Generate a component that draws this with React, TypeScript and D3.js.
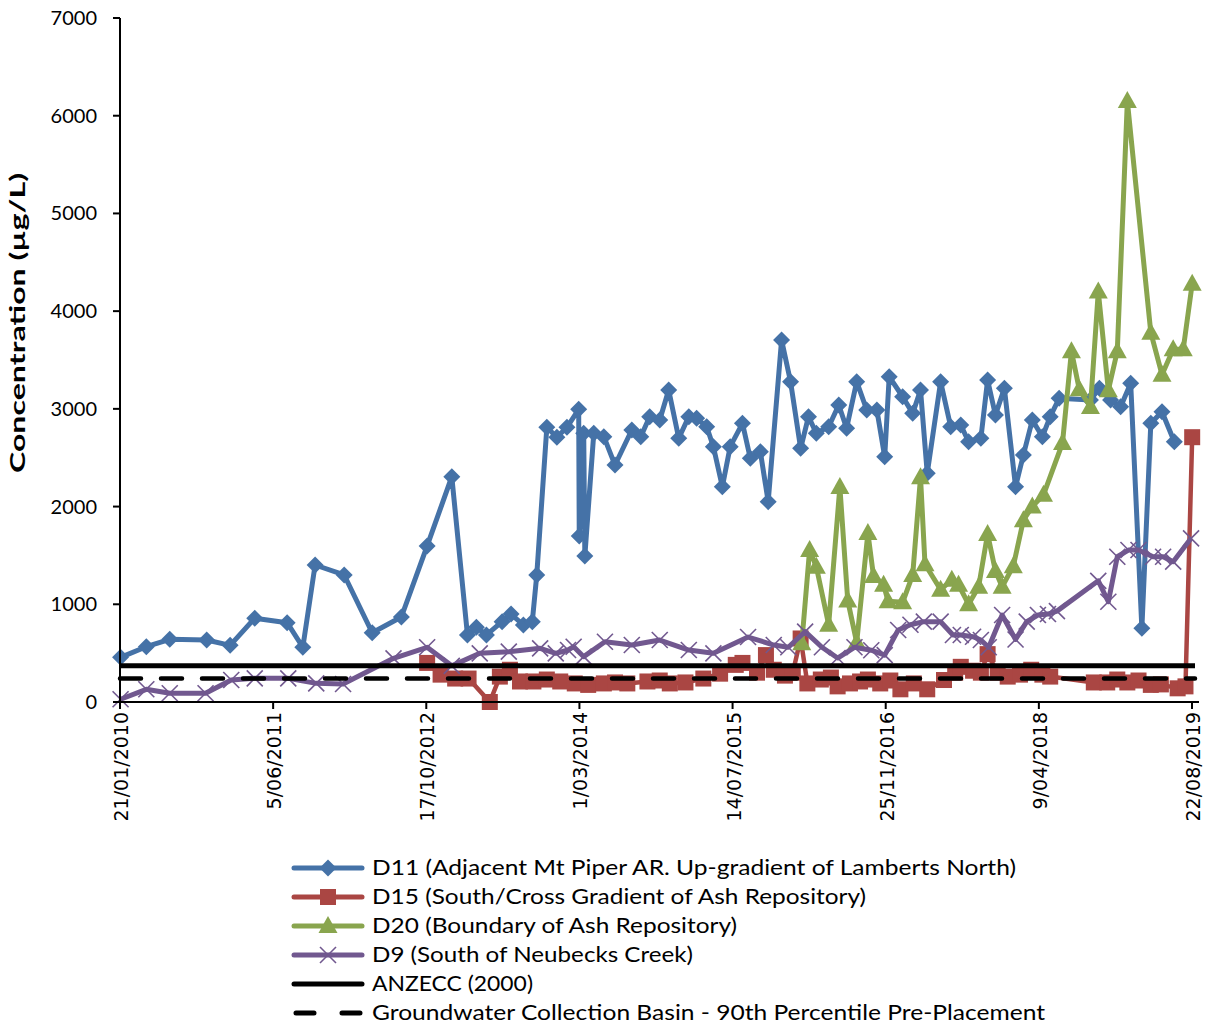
import React from 'react';
import * as d3 from 'd3';

// Sampling dates as decimal years, values in µg/L
const d11Dates = [2010.06, 2010.29, 2010.50, 2010.83, 2011.04, 2011.26, 2011.55, 2011.69, 2011.80, 2012.06, 2012.31, 2012.57, 2012.80, 2013.02, 2013.16, 2013.24, 2013.33, 2013.47, 2013.55, 2013.66, 2013.74, 2013.78, 2013.87, 2013.96, 2014.05, 2014.155, 2014.16, 2014.20, 2014.21, 2014.29, 2014.38, 2014.48, 2014.63, 2014.71, 2014.79, 2014.88, 2014.96, 2015.05, 2015.14, 2015.21, 2015.30, 2015.36, 2015.44, 2015.51, 2015.62, 2015.69, 2015.78, 2015.85, 2015.97, 2016.05, 2016.14, 2016.21, 2016.28, 2016.39, 2016.48, 2016.55, 2016.64, 2016.73, 2016.82, 2016.89, 2016.93, 2017.05, 2017.14, 2017.21, 2017.27, 2017.39, 2017.48, 2017.57, 2017.64, 2017.75, 2017.81, 2017.88, 2017.96, 2018.06, 2018.13, 2018.21, 2018.30, 2018.37, 2018.45, 2018.73, 2018.81, 2018.91, 2019.00, 2019.09, 2019.19, 2019.27, 2019.37, 2019.48];
const d11Values = [457, 566, 642, 634, 580, 857, 812, 560, 1402, 1300, 709, 870, 1597, 2306, 686, 764, 686, 822, 900, 788, 822, 1300, 2811, 2709, 2811, 2995, 1699, 2750, 1494, 2750, 2715, 2425, 2784, 2715, 2920, 2886, 3193, 2699, 2920, 2903, 2817, 2613, 2203, 2613, 2852, 2494, 2562, 2050, 3705, 3278, 2596, 2920, 2750, 2817, 3039, 2801, 3278, 2988, 2988, 2510, 3329, 3124, 2954, 3193, 2340, 3278, 2817, 2835, 2664, 2699, 3295, 2937, 3210, 2203, 2528, 2886, 2715, 2920, 3108, 3090, 3210, 3090, 3022, 3261, 754, 2852, 2971, 2664];

const d15Dates = [2012.80, 2012.92, 2013.05, 2013.17, 2013.36, 2013.45, 2013.54, 2013.63, 2013.75, 2013.87, 2013.99, 2014.12, 2014.24, 2014.38, 2014.48, 2014.59, 2014.77, 2014.88, 2014.97, 2015.11, 2015.27, 2015.42, 2015.56, 2015.62, 2015.75, 2015.83, 2015.90, 2016.00, 2016.07, 2016.14, 2016.20, 2016.32, 2016.41, 2016.47, 2016.58, 2016.67, 2016.74, 2016.85, 2016.94, 2017.03, 2017.15, 2017.27, 2017.42, 2017.52, 2017.57, 2017.68, 2017.75, 2017.81, 2017.90, 2017.99, 2018.10, 2018.20, 2018.30, 2018.37, 2018.76, 2018.88, 2018.97, 2019.06, 2019.16, 2019.27, 2019.36, 2019.51, 2019.58, 2019.64];
const d15Values = [400, 280, 240, 240, 0, 260, 330, 210, 210, 230, 210, 190, 175, 190, 200, 190, 210, 220, 190, 200, 240, 290, 380, 400, 300, 480, 330, 270, 300, 650, 190, 230, 250, 160, 190, 210, 230, 190, 220, 130, 190, 130, 225, 300, 360, 320, 300, 490, 300, 260, 280, 330, 280, 260, 200, 200, 230, 200, 220, 175, 180, 140, 160, 2710];

const d20Dates = [2016.15, 2016.22, 2016.28, 2016.39, 2016.49, 2016.56, 2016.64, 2016.74, 2016.79, 2016.88, 2016.92, 2017.05, 2017.14, 2017.21, 2017.25, 2017.39, 2017.49, 2017.55, 2017.64, 2017.73, 2017.81, 2017.88, 2017.94, 2018.04, 2018.13, 2018.21, 2018.31, 2018.48, 2018.56, 2018.63, 2018.73, 2018.80, 2018.89, 2018.97, 2019.06, 2019.27, 2019.37, 2019.47, 2019.56, 2019.64];
const d20Values = [600, 1555, 1385, 790, 2200, 1040, 610, 1730, 1290, 1200, 1030, 1020, 1300, 2300, 1410, 1150, 1250, 1200, 1000, 1180, 1720, 1340, 1180, 1390, 1860, 2000, 2120, 2650, 3590, 3200, 3020, 4200, 3190, 3590, 6150, 3780, 3350, 3610, 3610, 4280];

const d9Dates = [2010.06, 2010.29, 2010.50, 2010.82, 2011.05, 2011.26, 2011.56, 2011.81, 2012.05, 2012.50, 2012.80, 2013.02, 2013.27, 2013.53, 2013.81, 2013.95, 2014.06, 2014.11, 2014.20, 2014.39, 2014.63, 2014.88, 2015.14, 2015.36, 2015.67, 2015.90, 2016.03, 2016.18, 2016.33, 2016.47, 2016.62, 2016.77, 2016.89, 2017.01, 2017.12, 2017.24, 2017.39, 2017.50, 2017.57, 2017.68, 2017.75, 2017.82, 2017.94, 2018.06, 2018.16, 2018.26, 2018.35, 2018.43, 2018.80, 2018.89, 2018.97, 2019.07, 2019.16, 2019.29, 2019.38, 2019.47, 2019.63];
const d9Values = [28, 130, 89, 89, 225, 242, 242, 191, 184, 447, 560, 370, 498, 515, 549, 498, 532, 566, 464, 617, 583, 634, 532, 498, 665, 583, 560, 720, 560, 450, 560, 530, 480, 737, 790, 822, 822, 686, 686, 668, 634, 560, 890, 640, 822, 890, 900, 930, 1240, 1026, 1487, 1555, 1555, 1487, 1487, 1436, 1675];

const anzeccValue = 370;
const gcbP90Value = 240;

const yTicks = [0, 1000, 2000, 3000, 4000, 5000, 6000, 7000];
const xTickLabels = ['21/01/2010', '5/06/2011', '17/10/2012', '1/03/2014', '14/07/2015', '25/11/2016', '9/04/2018', '22/08/2019'];

const legendLabels = [
  'D11 (Adjacent Mt Piper AR. Up-gradient of Lamberts North)',
  'D15 (South/Cross Gradient of Ash Repository)',
  'D20 (Boundary of Ash Repository)',
  'D9 (South of Neubecks Creek)',
  'ANZECC (2000)',
  'Groundwater Collection Basin - 90th Percentile Pre-Placement',
];
const legendWidths = [644, 494, 365, 321, 161, 673];

const BLUE = '#4572A7';
const RED = '#AA4643';
const GREEN = '#89A54E';
const PURPLE = '#71588F';

function decToDate(d: number): Date {
  const y = Math.floor(d);
  const s = Date.UTC(y, 0, 1);
  const e = Date.UTC(y + 1, 0, 1);
  return new Date(s + (d - y) * (e - s));
}

const parse = d3.utcParse('%d/%m/%Y');

type Pt = { d: Date; v: number };
const zip = (ds: number[], vs: number[]): Pt[] => ds.map((d, i) => ({ d: decToDate(d), v: vs[i] }));

export default function App() {
  const left = 120, right = 1192, top = 18, bottom = 702;
  const x = d3.scaleUtc().domain([parse(xTickLabels[0])!, parse(xTickLabels[xTickLabels.length - 1])!]).range([left, right]);
  const y = d3.scaleLinear().domain([0, 7000]).range([bottom, top]);
  const line = d3.line<Pt>().x(p => x(p.d)).y(p => y(p.v));

  const series = [
    { key: 'd11', data: zip(d11Dates, d11Values), color: BLUE, marker: 'diamond', w: 5 },
    { key: 'd15', data: zip(d15Dates, d15Values), color: RED, marker: 'square', w: 4.5 },
    { key: 'd20', data: zip(d20Dates, d20Values), color: GREEN, marker: 'triangle', w: 5 },
    { key: 'd9', data: zip(d9Dates, d9Values), color: PURPLE, marker: 'x', w: 5 },
  ];

  const marker = (type: string, cx: number, cy: number, color: string, k: string | number) => {
    if (type === 'diamond') {
      const r = 8.5;
      return <path key={k} d={`M${cx},${cy - r}L${cx + r},${cy}L${cx},${cy + r}L${cx - r},${cy}Z`} fill={color} />;
    }
    if (type === 'square') {
      const s = 8;
      return <rect key={k} x={cx - s} y={cy - s} width={2 * s} height={2 * s} fill={color} />;
    }
    if (type === 'triangle') {
      return <path key={k} d={`M${cx},${cy - 10}L${cx + 9.5},${cy + 7}L${cx - 9.5},${cy + 7}Z`} fill={color} />;
    }
    const r = 8;
    return (
      <g key={k} stroke={color} strokeWidth={1.6}>
        <line x1={cx - r} y1={cy - r} x2={cx + r} y2={cy + r} />
        <line x1={cx - r} y1={cy + r} x2={cx + r} y2={cy - r} />
      </g>
    );
  };

  const x0 = x.range()[0];
  const x1 = x.range()[1];

  const legendY = [868, 897, 926, 955, 984, 1013];

  return (
    <svg width={1206} height={1032} style={{ position: 'absolute', left: 0, top: 0, background: '#fff' }}>
      <rect width={1206} height={1032} fill="#fff" />
      {series.map(s => (
        <g key={s.key}>
          <path d={line(s.data) || ''} fill="none" stroke={s.color} strokeWidth={s.w} strokeLinejoin="round" />
          {s.data.map((p, i) => marker(s.marker, x(p.d), y(p.v), s.color, i))}
        </g>
      ))}
      <line x1={x0} x2={x1 + 3} y1={y(anzeccValue)} y2={y(anzeccValue)} stroke="#000" strokeWidth={5} />
      <line x1={x0} x2={x1 + 3} y1={y(gcbP90Value)} y2={y(gcbP90Value)} stroke="#000" strokeWidth={4.5} strokeDasharray="21 20" strokeLinecap="round" />
      <line x1={left} x2={left} y1={top} y2={bottom} stroke="#000" strokeWidth={2} />
      <line x1={left} x2={1199} y1={bottom} y2={bottom} stroke="#000" strokeWidth={2} />
      {yTicks.map(t => (
        <g key={t}>
          <line x1={left - 7} x2={left} y1={y(t)} y2={y(t)} stroke="#000" strokeWidth={2} />
          <text x={97} y={y(t) + 7} textAnchor="end" fontFamily="Lato, sans-serif" fontSize={20} fill="#000">{t}</text>
        </g>
      ))}
      {xTickLabels.map(l => {
        const px = x(parse(l)!);
        return (
          <g key={l}>
            <line x1={px} x2={px} y1={bottom} y2={bottom + 7} stroke="#000" strokeWidth={2} />
            <text transform={`translate(${px + 8},${bottom + 10}) rotate(-90)`} textAnchor="end" fontFamily="DejaVu Sans, sans-serif" fontSize={19} fill="#000">{l}</text>
          </g>
        );
      })}
      <text transform="translate(25,323) rotate(-90)" textAnchor="middle" fontFamily="Lato, sans-serif" fontWeight="bold" fontSize={20} textLength={300} lengthAdjust="spacingAndGlyphs">Concentration (µg/L)</text>
      {legendLabels.map((lab, i) => {
        const cy = legendY[i];
        let sample: React.ReactNode;
        if (i < 4) {
          const s = series[i];
          sample = (
            <g>
              <line x1={294} x2={362} y1={cy} y2={cy} stroke={s.color} strokeWidth={5} strokeLinecap="round" />
              {marker(s.marker, 328, cy, s.color, 'm')}
            </g>
          );
        } else if (i === 4) {
          sample = <line x1={294} x2={362} y1={cy} y2={cy} stroke="#000" strokeWidth={5} strokeLinecap="round" />;
        } else {
          sample = <line x1={296} x2={362} y1={cy} y2={cy} stroke="#000" strokeWidth={5} strokeDasharray="18 28" strokeLinecap="round" />;
        }
        return (
          <g key={lab}>
            {sample}
            <text x={372} y={cy + 7} fontFamily="Lato, sans-serif" fontSize={22} fill="#000" textLength={legendWidths[i]} lengthAdjust="spacingAndGlyphs">{lab}</text>
          </g>
        );
      })}
    </svg>
  );
}
